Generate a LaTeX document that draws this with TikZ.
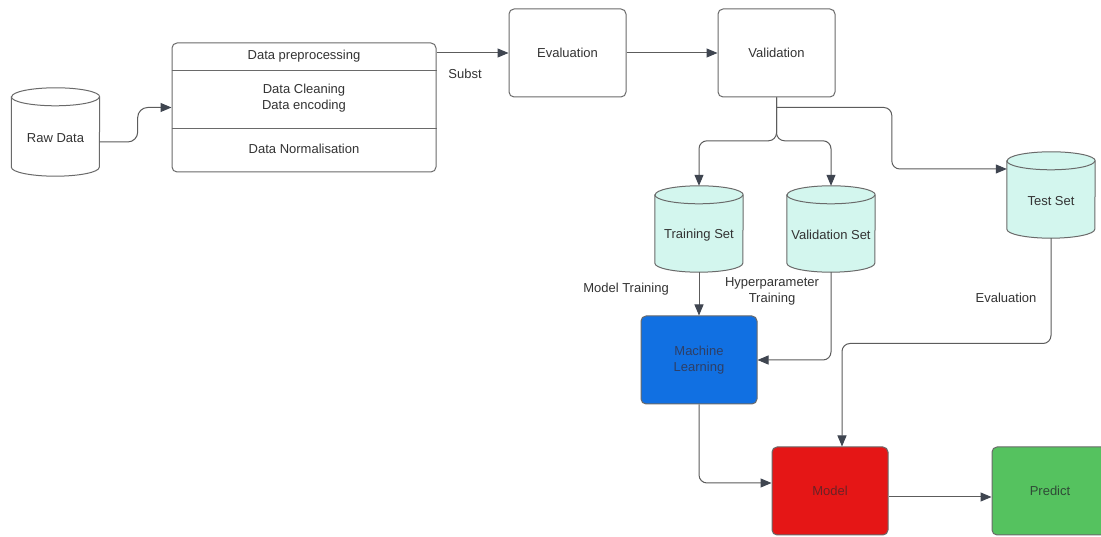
\documentclass[tikz,border=0pt]{standalone}
\usepackage{fontspec}
\setmainfont{Liberation Sans}
\usetikzlibrary{arrows.meta,calc}
\definecolor{linec}{HTML}{5C5C5C}
\definecolor{tipc}{HTML}{3F4550}
\definecolor{boxc}{HTML}{6A6A6A}
\definecolor{txt}{HTML}{333333}
\definecolor{cylfill}{HTML}{D3F6EE}
\definecolor{mlfill}{HTML}{1170E2}
\definecolor{modfill}{HTML}{E51616}
\definecolor{predfill}{HTML}{55C25F}
\definecolor{mltxt}{HTML}{2E3F66}
\definecolor{modtxt}{HTML}{6A2226}
\definecolor{predtxt}{HTML}{2F4A36}
\newcommand\drawcyl[2]{%
  \path[fill=#2, draw=boxc, line width=1pt]
    ($(#1.north west)+(0,-9)$) -- ($(#1.south west)+(0,9)$)
    arc[start angle=180, end angle=360, x radius=44, y radius=9]
    -- ($(#1.north east)+(0,-9)$)
    arc[start angle=0, end angle=180, x radius=44, y radius=9] -- cycle;
  \draw[boxc, line width=1pt] ($(#1.north west)+(0,-9)$)
    arc[start angle=180, end angle=360, x radius=44, y radius=9];
}
\begin{document}
\begin{tikzpicture}[x=1pt, y=1pt,
  font=\fontsize{13}{16}\selectfont,
  box/.style={draw=boxc, line width=1pt, rounded corners=5pt, minimum width=117pt,
    minimum height=88pt, inner sep=0pt, align=center, text=txt},
  arr/.style={draw=linec, line width=1pt, -{Triangle[length=11pt,width=9pt,fill=tipc,color=tipc]}, rounded corners=8pt},
  lbl/.style={align=center, inner sep=0pt, text=txt},
  cylbox/.style={minimum width=88pt, minimum height=86pt, inner sep=0pt}]
\useasboundingbox (0,0) rectangle (1101,537);
\fill[white] (0,0) rectangle (1101,537);

% cylinders
\node[cylbox, minimum height=88pt] (raw) at (55.5,405) {};
\node[cylbox] (tr) at (699,308) {};
\node[cylbox] (vs) at (831,308) {};
\node[cylbox] (ts) at (1051,342) {};
\drawcyl{raw}{white}
\drawcyl{tr}{cylfill}
\drawcyl{vs}{cylfill}
\drawcyl{ts}{cylfill}
\node[lbl] at ([yshift=-6pt]raw.center) {Raw Data};
\node[lbl] at ([yshift=-6pt]tr.center) {Training Set};
\node[lbl] at ([yshift=-6pt]vs.center) {Validation Set};
\node[lbl] at ([yshift=-6pt]ts.center) {Test Set};

% preprocessing box
\node[box, minimum width=264pt, minimum height=129pt] (pre) at (304,429.5) {};
\draw[boxc, line width=1pt] (pre.west |- 0,466) -- (pre.east |- 0,466);
\draw[boxc, line width=1pt] (pre.west |- 0,408) -- (pre.east |- 0,408);
\node[lbl] (p1) at (304,481) {Data preprocessing};
\node[lbl] (p2) at (304,439) {Data Cleaning\\Data encoding};
\node[lbl] (p3) at (304,388) {Data Normalisation};

% boxes
\node[box] (ev) at (567.5,484) {Evaluation};
\node[box] (va) at (776.5,484) {Validation};
\node[box, minimum width=116pt, fill=mlfill, text=mltxt] (ml) at (699,177) {Machine\\Learning};
\node[box, minimum width=116pt, fill=modfill, text=modtxt] (mo) at (830,46) {Model};
\node[box, minimum width=116pt, fill=predfill, text=predtxt] (pr) at (1050,46) {Predict};

% connectors
\draw[arr, rounded corners=10pt] ([yshift=-10pt]raw.east) -- ++(38,0) |- (pre.west);
\draw[arr] (pre.east |- ev.west) -- (ev.west);
\draw[arr] (ev.east) -- (va.west);
\draw[arr] (va.south) |- ($(tr.north)+(0,45)$) -- (tr.north);
\draw[arr] (va.south) |- ($(vs.north)+(0,45)$) -- (vs.north);
\draw[arr] ([yshift=-10pt]va.south) -| ([xshift=-115pt,yshift=26pt]ts.west) -- ([yshift=26pt]ts.west);
\draw[arr] (tr.south) -- (ml.north);
\draw[arr] (vs.south) |- (ml.east);
\draw[arr] (ts.south) |- ($(mo.north)+(12,103)$) -- ([xshift=12pt]mo.north);
\draw[arr] (ml.south) |- ([yshift=8pt]mo.west);
\draw[arr] ([yshift=-6pt]mo.east) -- ([yshift=-6pt]pr.west);

% labels
\node[lbl] (lsub) at (465,463) {Subst};
\node[lbl] (lmt) at (626,248) {Model Training};
\node[lbl] (lhp) at (772,245.5) {Hyperparameter\\Training};
\node[lbl] (lev) at (1006,239) {Evaluation};
\end{tikzpicture}
\end{document}
